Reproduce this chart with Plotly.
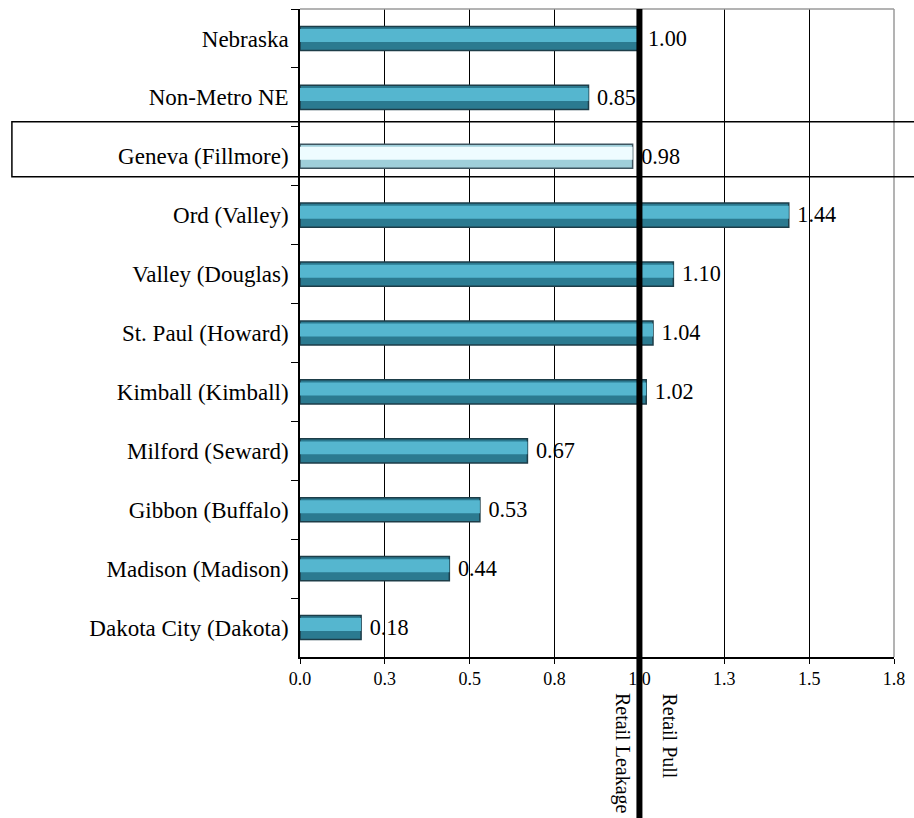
import plotly.graph_objects as go

categories = ["Nebraska", "Non-Metro NE", "Geneva (Fillmore)", "Ord (Valley)",
              "Valley (Douglas)", "St. Paul (Howard)", "Kimball (Kimball)",
              "Milford (Seward)", "Gibbon (Buffalo)", "Madison (Madison)",
              "Dakota City (Dakota)"]
values = [1.00, 0.85, 0.98, 1.44, 1.10, 1.04, 1.02, 0.67, 0.53, 0.44, 0.18]
highlight = "Geneva (Fillmore)"
x_tickvals = [0.0, 0.25, 0.5, 0.75, 1.0, 1.25, 1.5, 1.75]
x_ticktext = ["0.0", "0.3", "0.5", "0.8", "1.0", "1.3", "1.5", "1.8"]
ref_value = 1.0

FONT = "Liberation Serif"

base_colors = ["#9fcfda" if c == highlight else "#2b7a90" for c in categories]
line_colors = ["#3e5560" if c == highlight else "#1d3d48" for c in categories]
hi_colors = ["#eefcff" if c == highlight else "#55b6cf" for c in categories]

fig = go.Figure()
# base bar (dark edges)
fig.add_trace(go.Bar(
    y=categories, x=values, orientation="h", width=0.41,
    marker=dict(color=base_colors, line=dict(color=line_colors, width=1.5)),
    text=[f" {v:.2f}" for v in values], textposition="outside",
    textfont=dict(family=FONT, size=23, color="black"),
    cliponaxis=False, showlegend=False, hoverinfo="skip",
))
# highlight band (3D look)
fig.add_trace(go.Bar(
    y=categories, x=values, orientation="h", width=0.22, offset=-0.16,
    marker=dict(color=hi_colors, line=dict(width=0)),
    showlegend=False, hoverinfo="skip",
))

fig.update_layout(
    width=914, height=818,
    margin=dict(l=300, r=15, t=9, b=161),
    paper_bgcolor="white", plot_bgcolor="white",
    barmode="overlay",
    font=dict(family=FONT, color="black"),
    xaxis=dict(
        range=[0, 1.75], tickvals=x_tickvals, ticktext=x_ticktext,
        showgrid=True, gridcolor="black", gridwidth=1,
        ticks="outside", ticklen=5, tickcolor="black",
        showline=True, linecolor="black", linewidth=1.5,
        tickfont=dict(family=FONT, size=18, color="black"),
        zeroline=False, fixedrange=True,
    ),
    yaxis=dict(
        type="category", autorange="reversed",
        tickson="boundaries", ticks="outside", ticklen=7, tickcolor="black",
        showline=True, linecolor="black", linewidth=1.5, showgrid=False,
        tickfont=dict(family=FONT, size=23, color="black"),
        ticklabelstandoff=5,
    ),
    shapes=[
        # gray top / right plot border
        dict(type="line", xref="paper", yref="paper", x0=0, x1=1, y0=1, y1=1,
             line=dict(color="#9a9a9a", width=1.5)),
        dict(type="line", xref="paper", yref="paper", x0=1, x1=1, y0=0, y1=1,
             line=dict(color="#9a9a9a", width=1.5)),
        # highlight box around Geneva row
        dict(type="rect", xref="paper", yref="paper", x0=-0.485, x1=1.05,
             y0=0.741, y1=0.826, line=dict(color="black", width=1.5),
             fillcolor="rgba(0,0,0,0)", layer="above"),
        # thick reference line at 1.0
        dict(type="line", xref="x", yref="paper", x0=ref_value, x1=ref_value,
             y0=-0.26, y1=1, line=dict(color="black", width=6), layer="above"),
    ],
    annotations=[
        dict(text="Retail Leakage", x=ref_value, xref="x", y=-0.053, yref="paper",
             xanchor="right", yanchor="top", textangle=90, showarrow=False,
             xshift=-4, font=dict(family=FONT, size=20, color="black")),
        dict(text="Retail Pull", x=ref_value, xref="x", y=-0.053, yref="paper",
             xanchor="left", yanchor="top", textangle=90, showarrow=False,
             xshift=18, font=dict(family=FONT, size=20, color="black")),
    ],
)

fig.write_html("out.html", config={"displayModeBar": False},
               post_script="document.body.style.margin='0';document.body.style.overflow='hidden';")
